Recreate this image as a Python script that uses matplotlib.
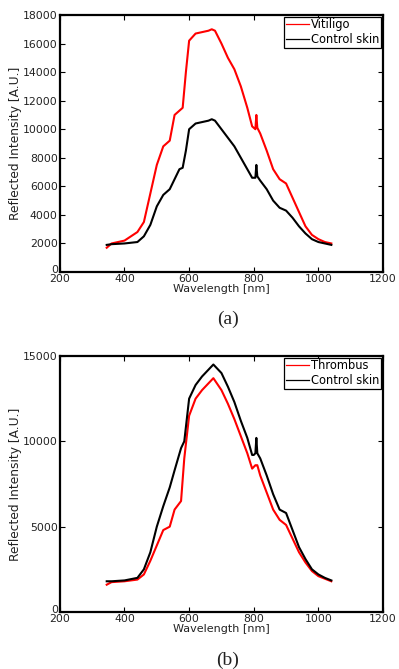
import matplotlib
import numpy as np

matplotlib.use("Agg")
import matplotlib.pyplot as plt
from matplotlib.transforms import ScaledTranslation

plt.rcParams["font.family"] = ["DejaVu Sans"]

# (a) vitiligo vs control skin
wl_a = [345, 360, 400, 440, 460, 480, 500, 520, 540, 555, 570, 580, 590, 600, 620, 640,
        660, 670, 680, 700, 720, 740, 760, 780, 795, 805, 808, 811, 820, 840, 860, 880,
        900, 920, 940, 960, 980, 1000, 1020, 1040]
vitiligo = [1700, 2000, 2200, 2800, 3500, 5500, 7500, 8800, 9200, 11000, 11300, 11500, 14000,
            16200, 16700, 16800, 16900, 17000, 16900, 16000, 15000, 14200, 13000, 11500, 10200,
            10000, 11000, 10100, 9700, 8500, 7200, 6500, 6200, 5200, 4200, 3200, 2600, 2300,
            2100, 2000]
control_a = [1900, 1950, 2000, 2100, 2500, 3300, 4600, 5400, 5800, 6500, 7200, 7300, 8500,
             10000, 10400, 10500, 10600, 10700, 10600, 10000, 9400, 8800, 8000, 7200, 6600,
             6600, 7500, 6700, 6400, 5800, 5000, 4500, 4300, 3800, 3200, 2700, 2300, 2100,
             2000, 1900]

# (b) thrombus vs control skin
wl_b = [345, 360, 400, 440, 460, 480, 500, 520, 540, 555, 575, 585, 600, 620, 640, 660,
        675, 700, 720, 740, 760, 780, 795, 800, 805, 808, 811, 820, 840, 860, 880, 900,
        920, 940, 960, 980, 1000, 1020, 1040]
thrombus = [1600, 1750, 1800, 1900, 2200, 3000, 3900, 4800, 5000, 6000, 6500, 9000, 11500,
            12500, 13000, 13400, 13700, 13000, 12200, 11300, 10300, 9300, 8400, 8500, 8600,
            8600, 8600, 8000, 7000, 6000, 5400, 5100, 4300, 3500, 2900, 2400, 2100, 1950, 1800]
control_b = [1800, 1800, 1850, 2000, 2500, 3500, 5000, 6200, 7300, 8300, 9600, 10000, 12500,
             13300, 13800, 14200, 14500, 14000, 13200, 12300, 11200, 10200, 9200, 9200, 9300,
             10200, 9300, 9000, 8000, 6900, 6000, 5800, 4800, 3800, 3100, 2500, 2200, 2000, 1850]

panels = [
    (wl_a, vitiligo, control_a, "Vitiligo", 18000, np.arange(0, 18001, 2000), "(a)"),
    (wl_b, thrombus, control_b, "Thrombus", 15000, np.arange(0, 15001, 5000), "(b)"),
]
positions = [[0.150, 0.5934, 0.810, 0.3842], [0.150, 0.0852, 0.810, 0.3827]]
caption_y = [0.510, 0.0]

fig = plt.figure(figsize=(3.99, 6.69), dpi=100)
for (wl, lesion, control, name, ymax, yticks, cap), pos, cy in zip(panels, positions, caption_y):
    ax = fig.add_axes(pos)
    ax.plot(wl, lesion, color="#ff0000", linewidth=1.5, label=name)
    ax.plot(wl, control, color="black", linewidth=1.5, label="Control skin")
    ax.set_xlim(200, 1200)
    ax.set_ylim(0, ymax)
    ax.set_xticks([200, 400, 600, 800, 1000, 1200])
    ax.set_yticks(yticks)
    ax.tick_params(direction="in", top=True, right=True, labelsize=7.8, length=3.5,
                   pad=1.5, colors="black", labelcolor="#222222")
    # nudge the "0" y label up a touch, like the MATLAB original
    ax.get_yticklabels()[0].set_transform(
        ax.get_yticklabels()[0].get_transform() + ScaledTranslation(0, 2 / 72, fig.dpi_scale_trans))
    for s in ax.spines.values():
        s.set_linewidth(1.6)
    ax.set_xlabel("Wavelength [nm]", fontsize=8, labelpad=0, color="#222222")
    ax.set_ylabel("Reflected Intensity [A.U.]", fontsize=8.8, labelpad=1, color="#222222")
    leg = ax.legend(loc="upper right", fontsize=8.3, handlelength=2.0, handletextpad=0.2,
                    borderpad=0.15, labelspacing=0.15, fancybox=False, framealpha=1,
                    borderaxespad=0.15)
    leg.get_frame().set_edgecolor("black")
    leg.get_frame().set_linewidth(0.9)
    for line in leg.get_lines():
        line.set_linewidth(0.9)
    fig.text(0.571, cy, cap, ha="center", va="bottom", fontsize=14,
             family="Liberation Serif", color="#222222")

fig.savefig("out.png", dpi=100)
